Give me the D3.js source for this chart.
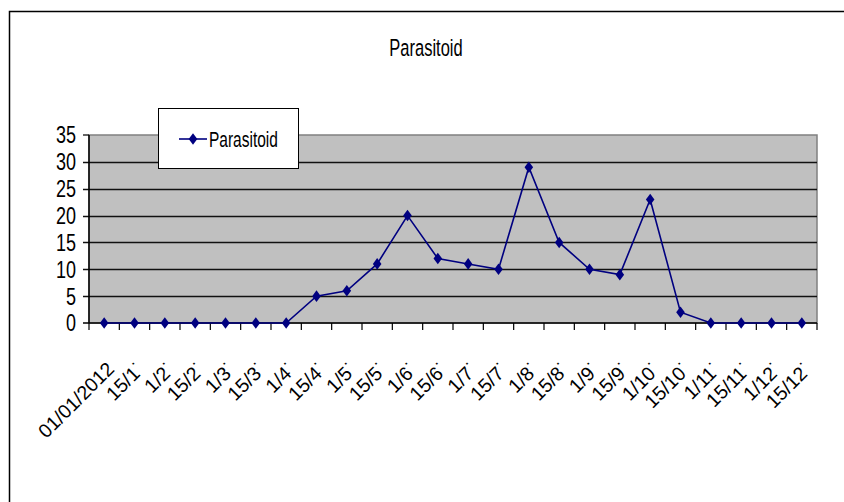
<!DOCTYPE html>
<html>
<head>
<meta charset="utf-8">
<script src="https://cdn.jsdelivr.net/npm/d3@7"></script>
<style>
  html, body { margin: 0; padding: 0; background: #fff; }
  svg { display: block; }
  text { font-family: "Liberation Sans", Arial, sans-serif; fill: #000; }
</style>
</head>
<body>
<svg id="chart" width="844" height="502"></svg>
<script>
const categories = ["01/01/2012","15/1","1/2","15/2","1/3","15/3","1/4","15/4","1/5","15/5","1/6","15/6","1/7","15/7","1/8","15/8","1/9","15/9","1/10","15/10","1/11","15/11","1/12","15/12"];
const tickLabels = ["01/01/2012","15/1˙","1/2˙","15/2˙","1/3˙","15/3˙","1/4˙","15/4˙","1/5˙","15/5˙","1/6˙","15/6˙","1/7˙","15/7˙","1/8˙","15/8˙","1/9˙","15/9˙","1/10˙","15/10˙","1/11˙","15/11˙","1/12˙","15/12˙"];
const parasitoid = [0,0,0,0,0,0,0,5,6,11,20,12,11,10,29,15,10,9,23,2,0,0,0,0];
const yTicks = [0,5,10,15,20,25,30,35];
const seriesName = "Parasitoid";
const titleText = "Parasitoid";

const svg = d3.select("#chart");
const navy = "#000080";

// outer chart border (extends past right / bottom)
svg.append("path")
  .attr("d", "M9.5,510 L9.5,11.5 L850,11.5")
  .attr("fill", "none").attr("stroke", "#000").attr("stroke-width", 1.5);

const plot = { left: 89, right: 817, top: 135, bottom: 323 };

const x = d3.scaleBand().domain(categories).range([plot.left, plot.right]).padding(0);
const y = d3.scaleLinear().domain([0, 35]).range([plot.bottom, plot.top]);

// plot background
svg.append("rect")
  .attr("x", plot.left).attr("y", plot.top)
  .attr("width", plot.right - plot.left).attr("height", plot.bottom - plot.top)
  .attr("fill", "#c0c0c0").attr("stroke", "#808080").attr("stroke-width", 1.5);

// gridlines + y ticks
svg.append("g").selectAll("line").data(yTicks.filter(d => d > 0 && d < 35)).join("line")
  .attr("x1", plot.left - 6).attr("x2", plot.right)
  .attr("y1", d => Math.round(y(d)) + 0.5).attr("y2", d => Math.round(y(d)) + 0.5)
  .attr("stroke", "#111").attr("stroke-width", 1.3);
svg.append("line")
  .attr("x1", plot.left - 6).attr("x2", plot.left)
  .attr("y1", y(35)).attr("y2", y(35))
  .attr("stroke", "#111").attr("stroke-width", 1.3);

// y axis line
svg.append("line")
  .attr("x1", plot.left).attr("x2", plot.left)
  .attr("y1", plot.top).attr("y2", plot.bottom)
  .attr("stroke", "#000").attr("stroke-width", 1.5);

// x axis line + ticks at category boundaries
svg.append("line")
  .attr("x1", plot.left - 6).attr("x2", plot.right)
  .attr("y1", plot.bottom).attr("y2", plot.bottom)
  .attr("stroke", "#000").attr("stroke-width", 1.5);
const bounds = categories.map(c => x(c)).concat([plot.right]);
svg.append("g").selectAll("line").data(bounds).join("line")
  .attr("x1", d => d).attr("x2", d => d)
  .attr("y1", plot.bottom).attr("y2", plot.bottom + 7)
  .attr("stroke", "#000").attr("stroke-width", 1.2);

// y tick labels
const yl = svg.append("g").selectAll("g").data(yTicks).join("g")
  .attr("transform", d => `translate(76,${y(d)}) scale(1,1.3)`);
yl.append("text")
  .attr("text-anchor", "end").attr("dy", "0.36em")
  .attr("font-size", 18)
  .text(d => d);

// x tick labels, rotated
const xl = svg.append("g").selectAll("g").data(categories).join("g")
  .attr("transform", d => `translate(${x(d) + x.bandwidth() / 2 + 1},360) rotate(-45)`);
xl.append("text")
  .attr("text-anchor", "end").attr("dy", "0.74em")
  .attr("font-size", 19.5)
  .text((d, i) => tickLabels[i]);

// series line
const cx = d => x(d) + x.bandwidth() / 2;
const line = d3.line().x((d, i) => cx(categories[i])).y(d => y(d));
svg.append("path")
  .datum(parasitoid)
  .attr("d", line)
  .attr("fill", "none").attr("stroke", navy).attr("stroke-width", 1.6);

const diamond = (px, py, w, h) => `M${px},${py - h} L${px + w},${py} L${px},${py + h} L${px - w},${py} Z`;
svg.append("g").selectAll("path").data(parasitoid).join("path")
  .attr("d", (d, i) => diamond(cx(categories[i]), y(d), 4.3, 5.8))
  .attr("fill", navy);

// title
svg.append("g").attr("transform", "translate(426,56) scale(1,1.5)")
  .append("text").attr("text-anchor", "middle").attr("font-size", 16.5).text(titleText);

// legend
svg.append("rect")
  .attr("x", 158.5).attr("y", 108.5).attr("width", 140).attr("height", 60)
  .attr("fill", "#fff").attr("stroke", "#000").attr("stroke-width", 1);
svg.append("line")
  .attr("x1", 179).attr("x2", 207).attr("y1", 139).attr("y2", 139)
  .attr("stroke", navy).attr("stroke-width", 1.6);
svg.append("path").attr("d", diamond(193, 139, 4.3, 5.8)).attr("fill", navy);
svg.append("g").attr("transform", "translate(209,146.5) scale(1,1.42)")
  .append("text").attr("font-size", 15.5).text(seriesName);
</script>
</body>
</html>
